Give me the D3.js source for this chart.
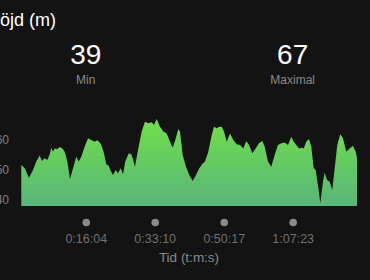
<!DOCTYPE html>
<html>
<head>
<meta charset="utf-8">
<script src="https://cdn.jsdelivr.net/npm/d3@7"></script>
<style>
  body { margin: 0; background: #131313; }
  svg { display: block; font-family: "Liberation Sans", Arial, sans-serif; }
</style>
</head>
<body>
<script>
// elevation profile, time in seconds / height in metres
var times = [4, 55, 119, 179, 228, 278, 312, 353, 391, 427, 451, 476, 501, 540, 576, 615, 650, 689, 729, 774,
  823, 859, 897, 948, 997, 1046, 1097, 1135, 1171, 1195, 1235, 1269, 1305, 1335, 1369, 1409, 1443, 1484, 1518, 1552,
  1603, 1641, 1662, 1696, 1745, 1796, 1845, 1894, 1945, 1979, 2019, 2068, 2117, 2168, 2207, 2257, 2296, 2341, 2366, 2406,
  2455, 2504, 2555, 2604, 2653, 2704, 2738, 2787, 2838, 2872, 2912, 2951, 2986, 3021, 3061, 3110, 3159, 3210, 3259, 3308,
  3352, 3393, 3442, 3492, 3541, 3591, 3626, 3675, 3724, 3775, 3824, 3873, 3924, 3973, 4022, 4058, 4096, 4137, 4171, 4207,
  4245, 4285, 4320, 4355, 4385, 4419, 4454, 4494, 4519, 4553, 4593, 4632, 4668, 4706, 4751, 4791, 4840, 4891, 4940, 4980, 5000];
var heights = [51.7, 50.6, 47.4, 50.0, 52.8, 54.8, 53.0, 53.9, 53.3, 55.2, 57.4, 56.1, 57.2, 57.0, 57.7, 57.2, 56.1, 52.8, 47.0, 50.6,
  54.4, 52.8, 54.4, 57.8, 60.6, 60.0, 59.4, 59.9, 59.2, 58.3, 55.6, 51.9, 51.4, 49.7, 48.3, 50.0, 48.9, 50.6, 48.6, 52.8,
  55.6, 55.2, 53.9, 51.1, 57.2, 62.8, 66.1, 65.6, 65.9, 65.0, 67.0, 64.4, 62.8, 62.2, 60.0, 57.4, 60.0, 63.7, 62.8, 55.0,
  51.1, 48.3, 46.3, 48.3, 50.6, 52.2, 52.8, 56.1, 61.7, 64.4, 63.9, 64.4, 64.4, 62.8, 59.4, 62.2, 60.0, 58.6, 58.3, 57.2,
  59.7, 58.3, 55.6, 57.2, 58.9, 59.7, 57.8, 52.8, 51.1, 55.0, 58.3, 58.9, 59.2, 58.3, 61.1, 59.4, 58.3, 57.2, 57.4, 57.2,
  59.4, 60.3, 57.8, 50.6, 50.0, 45.0, 39.0, 46.1, 49.2, 46.7, 46.1, 43.3, 50.6, 58.3, 61.9, 60.6, 56.1, 57.2, 58.1, 56.1, 53.9];

var yTicks = [40, 50, 60];
var xTicks = [964, 1990, 3017, 4043];
var statValues = ["39", "67"];
var statLabels = ["Min", "Maximal"];

var width = 370, height = 280;

var svg = d3.select("body").append("svg")
    .attr("width", width)
    .attr("height", height);

var x = d3.scaleLinear().domain([0, 5000]).range([21, 357]);
var y = d3.scaleLinear().domain([38, 67]).range([206, 119]);

var data = times.map(function(t, i) { return {t: t, h: heights[i]}; });

// gradient fill for the area
var grad = svg.append("defs").append("linearGradient")
    .attr("id", "fillGrad")
    .attr("gradientUnits", "userSpaceOnUse")
    .attr("x1", 0).attr("x2", 0)
    .attr("y1", y(67)).attr("y2", y(38));
grad.append("stop").attr("offset", "0%").attr("stop-color", "#70e04a");
grad.append("stop").attr("offset", "100%").attr("stop-color", "#58b679");

// title, partly off the left edge like the screenshot
svg.append("text")
    .attr("x", 56)
    .attr("y", 25.5)
    .attr("text-anchor", "end")
    .attr("fill", "#ffffff")
    .style("font-size", "18px")
    .text("Höjd (m)");

// min / max numbers
var statX = [xTicks[0], xTicks[3]];
statValues.forEach(function(v, i) {
  svg.append("text")
      .attr("x", x(statX[i]))
      .attr("y", 64)
      .attr("text-anchor", "middle")
      .attr("fill", "#ffffff")
      .style("font-size", "28px")
      .text(v);
  svg.append("text")
      .attr("x", x(statX[i]))
      .attr("y", 83.5)
      .attr("text-anchor", "middle")
      .attr("fill", "#8a8a8a")
      .style("font-size", "12px")
      .text(statLabels[i]);
});

var area = d3.area()
    .x(function(d) { return x(d.t); })
    .y0(y(38))
    .y1(function(d) { return y(d.h); });

svg.append("path")
    .datum(data)
    .attr("fill", "url(#fillGrad)")
    .attr("d", area);

// y axis labels
var yAxis = svg.append("g")
    .attr("transform", "translate(15,0)")
    .call(d3.axisLeft(y).tickValues(yTicks).tickSize(0).tickPadding(6));
yAxis.select(".domain").remove();
yAxis.selectAll("text")
    .attr("fill", "#808080")
    .style("font-size", "12px")
    .style("font-family", "Liberation Sans, Arial, sans-serif");

// x axis: dots + time labels
function fmt(s) {
  var h = Math.floor(s / 3600), m = Math.floor((s % 3600) / 60), sec = s % 60;
  return h + ":" + d3.format("02")(m) + ":" + d3.format("02")(sec);
}

var xAxis = svg.append("g")
    .attr("transform", "translate(0,233)")
    .call(d3.axisBottom(x).tickValues(xTicks).tickFormat(fmt).tickSize(0).tickPadding(0));
xAxis.select(".domain").remove();
xAxis.selectAll("text")
    .attr("dy", "0.83em")
    .attr("fill", "#707070")
    .style("font-size", "12.5px")
    .style("font-family", "Liberation Sans, Arial, sans-serif");
xAxis.selectAll(".tick").append("circle")
    .attr("cy", -10.5)
    .attr("r", 3.8)
    .attr("fill", "#8a8a8a");

svg.append("text")
    .attr("x", 189)
    .attr("y", 262)
    .attr("text-anchor", "middle")
    .attr("fill", "#8a8a8a")
    .style("font-size", "13.5px")
    .text("Tid (t:m:s)");
</script>
</body>
</html>
